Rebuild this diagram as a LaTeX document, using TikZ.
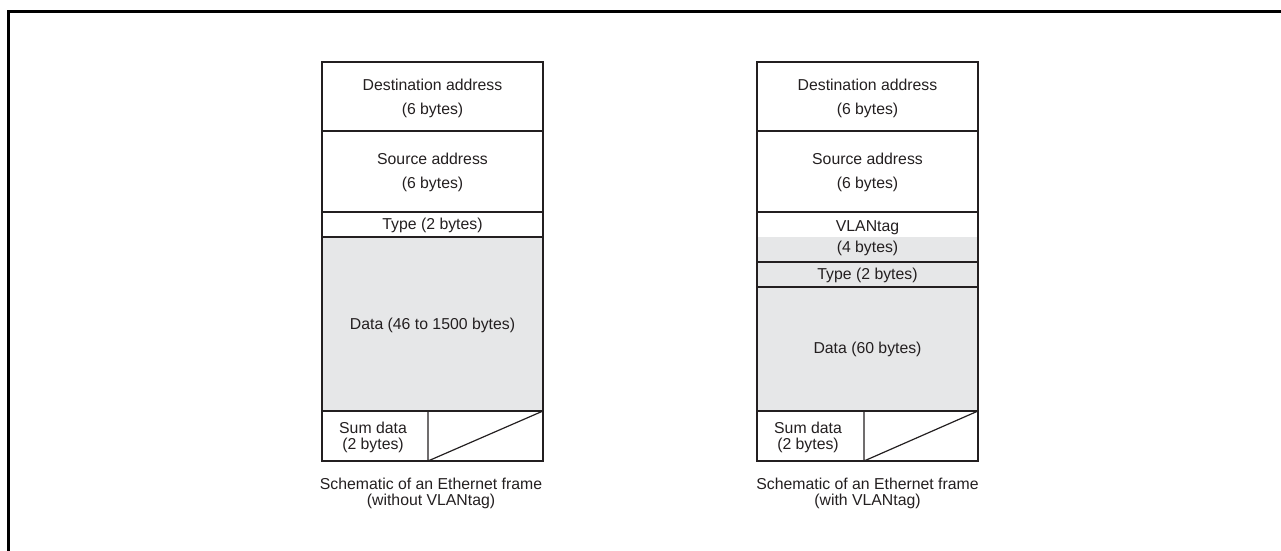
\documentclass[tikz,border=0pt]{standalone}
\usepackage{fontspec}
\setmainfont{Liberation Sans}
\definecolor{ln}{HTML}{231F20}
\definecolor{gr}{HTML}{E6E7E8}
\begin{document}
\begin{tikzpicture}[x=1pt,y=-1pt,
  hline/.style={draw=ln, line width=1.2pt},
  vline/.style={draw=ln, line width=2.4pt},
  outer/.style={draw=black, line width=3pt},
  lbl/.style={font=\fontsize{15.8pt}{24pt}\selectfont, align=center, inner sep=0pt, text=ln},
  tight/.style={font=\fontsize{15.8pt}{16pt}\selectfont, align=center, inner sep=0pt, text=ln}]
\useasboundingbox (0,0) rectangle (1281,550);
% outer frame (cut off at right and bottom)
\draw[outer] (8,552) -- (8,11) -- (1283,11);

% ---------- left frame ----------
\fill[gr] (322,237) rectangle (543,411);
\foreach \y in {62,131,212,237,411,461} \draw[hline] (322,\y) -- (543,\y);
\draw[vline] (322,61) -- (322,462);
\draw[vline] (543,61) -- (543,462);
\coordinate (ldt) at (428,411);
\coordinate (ldb) at (428,461);
\coordinate (lcr) at (543,411);
\draw[hline] (ldt) -- (ldb) -- (lcr);

\node[lbl] (ldest) at (432.5,98.5) {Destination address\\(6 bytes)};
\node[lbl] (lsrc) at (432.5,172) {Source address\\(6 bytes)};
\node[lbl] (ltype) at (432.5,225) {Type (2 bytes)};
\node[lbl] (ldata) at (432.5,325) {Data (46 to 1500 bytes)};
\node[tight] (lsum) at (373,437) {Sum data\\(2 bytes)};
\node[tight] (lcap) at (431,493) {Schematic of an Ethernet frame\\(without VLANtag)};

% ---------- right frame ----------
\fill[gr] (757,237) rectangle (978,411);
\foreach \y in {62,131,212,262,287,411,461} \draw[hline] (757,\y) -- (978,\y);
\draw[vline] (757,61) -- (757,462);
\draw[vline] (978,61) -- (978,462);
\coordinate (rdt) at (864,411);
\coordinate (rdb) at (864,461);
\coordinate (rcr) at (978,411);
\draw[hline] (rdt) -- (rdb) -- (rcr);

\node[lbl] (rdest) at (867.5,98.5) {Destination address\\(6 bytes)};
\node[lbl] (rsrc) at (867.5,172) {Source address\\(6 bytes)};
\node[lbl, font=\fontsize{15.8pt}{21pt}\selectfont] (rvlan) at (867.5,238.5) {VLANtag\\(4 bytes)};
\node[lbl] (rtype) at (867.5,275) {Type (2 bytes)};
\node[lbl] (rdata) at (867.5,349) {Data (60 bytes)};
\node[tight] (rsum) at (808,437) {Sum data\\(2 bytes)};
\node[tight] (rcap) at (867.5,493) {Schematic of an Ethernet frame\\(with VLANtag)};
\end{tikzpicture}
\end{document}
